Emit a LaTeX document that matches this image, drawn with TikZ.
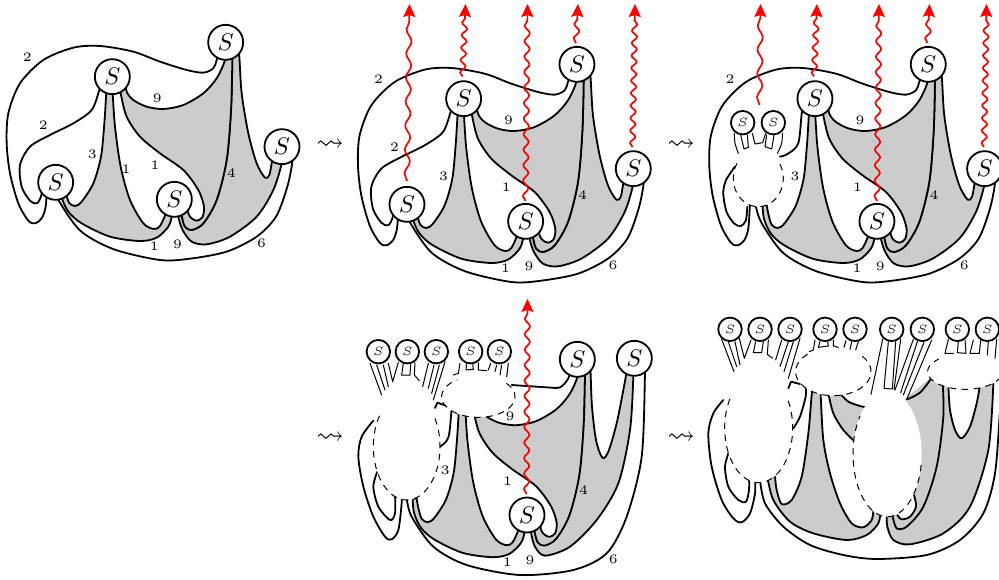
\documentclass[tikz,border=0pt]{standalone}
\usepackage{amssymb}
\usetikzlibrary{decorations.pathmorphing,arrows.meta}
\definecolor{grayreg}{gray}{0.8}
\newcounter{labc}
\tikzset{
  Z/.style 2 args={shift={(#1pt,-#2pt)},x=0.33333pt,y=-0.33333pt},
  reg/.style={draw=black,fill=grayreg,line width=1.8pt,line join=round},
  cv/.style={draw=black,line width=1.8pt,line cap=round,line join=round},
  thinline/.style={draw=black,line width=1pt,line cap=round,line join=round},
  bigS/.style={circle,draw=black,fill=white,line width=1.8pt,inner sep=0pt,minimum size=35pt},
  smallS/.style={circle,draw=black,fill=white,line width=1.8pt,inner sep=0pt,minimum size=23.5pt},
  dashline/.style={draw=black,line width=1pt,dash pattern=on 6.5pt off 5.5pt},
  redarrow/.style={draw=red,line width=1.7pt,-{Stealth[length=13pt,width=12pt,inset=2pt]},
    decorate,decoration={snake,amplitude=2.6pt,segment length=#1,post length=13pt}}
}
\newcommand\bS[3]{\node[bigS] (#1) at (#2,#3) {\scalebox{2.4}{$S$}};}
\newcommand\sS[3]{\node[smallS] (#1) at (#2,#3) {\scalebox{2.4}{$\scriptscriptstyle S$}};}
\newcommand\lab[3]{\stepcounter{labc}\node[inner sep=0pt] (lab\thelabc) at (#1,#2) {\scalebox{2.6}{\tiny #3}};}
\newcommand\squig[3]{\node[inner sep=0pt] (#1) at (#2,#3) {\scalebox{2.75}{$\rightsquigarrow$}};}
% cx cy rx ry a b
\newcommand\blob[6]{\fill[white] (#1,#2) ellipse [x radius=#3,y radius=#4];
  \draw[dashline] plot[domain=#5:#6,samples=70] ({#1+#3*cos(\x)},{#2+#4*sin(\x)});}
\newcommand\redarr[6]{\coordinate (#1s) at (#2,#3);\coordinate (#1e) at (#4,#5);
  \draw[redarrow=#6] (#1s) -- (#1e);}
% base pieces, in the coordinates of panel one scaled by three
\newcommand\grayA{\filldraw[reg] plot[smooth] coordinates {(322,200)(319,245)(313,340)(303,440)(280,520)(245,575)(225,588)(207,578)(197,545)(192,517)}
  -- plot[smooth] coordinates {(180,517)(184,560)(205,605)(245,640)(330,680)(420,693)(470,683)(505,650)(516,615)(518,568)}
  -- plot[smooth] coordinates {(500,568)(497,610)(480,648)(462,657)(430,640)(390,570)(362,470)(345,350)(338,250)(335,200)} -- cycle;}
\newcommand\grayB{\filldraw[reg] plot[smooth] coordinates {(375,205)(380,245)(400,270)(440,290)(490,297)(550,285)(610,250)(650,205)(675,150)(680,97)}
  -- plot[smooth] coordinates {(695,100)(697,145)(693,300)(680,450)(650,570)(610,640)(575,660)(555,650)(546,620)(540,568)}
  -- plot[smooth] coordinates {(560,568)(565,610)(575,625)(590,632)(607,622)(612,590)(595,540)(550,480)(480,430)(420,380)(380,320)(362,250)(355,205)} -- cycle;}
\newcommand\grayC{\filldraw[reg] plot[smooth] coordinates {(712,100)(718,140)(725,250)(745,370)(770,460)(795,503)(808,495)(815,460)(825,410)}
  -- plot[smooth] coordinates {(848,410)(845,460)(820,540)(770,620)(690,680)(620,703)(575,695)(548,660)(535,620)(530,568)}
  -- plot[smooth] coordinates {(540,568)(546,620)(555,650)(575,660)(610,640)(650,570)(680,450)(693,300)(697,145)(695,100)} -- cycle;}
\newcommand\six{\draw[cv] plot[smooth] coordinates {(876,410)(877,455)(862,530)(828,620)(770,680)(680,725)(570,746)(480,750)(342,718)(242,663)(177,573)(160,525)(157,517)};}
\newcommand\outertwo{\draw[cv] plot[smooth] coordinates {(665,97)(650,150)(640,175)(610,188)(560,180)(480,155)(400,125)(300,108)(220,113)(130,150)(60,220)(25,310)(20,400)(30,490)(55,580)(85,632)(105,640)(125,625)(137,590)(142,517)};}
\newcommand\innertwo{\draw[cv] plot[smooth] coordinates {(310,200)(298,240)(275,300)(220,340)(150,375)(90,410)(60,465)(65,530)(90,572)(110,580)(123,560)(130,517)};}
\newcommand\innerpiece{\draw[cv] plot[smooth] coordinates {(310,200)(298,240)(287,334)(255,366)(232,374)};}
\newcommand\labelsCommon{\lab{472}{266}{9}\lab{277}{432}{3}\lab{465}{465}{1}\lab{694}{490}{4}\lab{463}{710}{1}\lab{533}{702}{9}\lab{785}{700}{6}}
\begin{document}
\begin{tikzpicture}[x=1pt,y=-1pt]
\useasboundingbox (0,0) rectangle (999,580);
\fill[white] (0,0) rectangle (999,580);
%%% panel 1
\begin{scope}[Z={0}{10}]
\grayC\grayB\grayA\six\outertwo\innertwo
\bS{a1}{677}{97}\bS{a2}{337}{200}\bS{a3}{167}{517}\bS{a4}{523}{568}\bS{a5}{846}{410}
\labelsCommon\lab{82}{143}{2}\lab{130}{345}{2}\lab{378}{477}{1}
\end{scope}
\squig{q1}{330}{145}
%%% panel 2
\begin{scope}[Z={351.3}{32}]
\grayC\grayB\grayA\six\outertwo\innertwo
\bS{b1}{677}{97}\bS{b2}{337}{200}\bS{b3}{167}{517}\bS{b4}{523}{568}\bS{b5}{846}{410}
\labelsCommon\lab{82}{143}{2}\lab{130}{345}{2}
\end{scope}
\redarr{ra1}{407}{181}{409.5}{4}{24pt}
\redarr{ra2}{462.5}{76.5}{465.5}{4}{12.5pt}
\redarr{ra3}{525.5}{201}{527.5}{4}{15.5pt}
\redarr{ra4}{576}{43}{578}{4}{14.5pt}
\redarr{ra5}{632.5}{147}{635}{4}{12.5pt}
\squig{q2}{681}{145}
%%% panel 3
\begin{scope}[Z={702.6}{32}]
\grayC\grayB\grayA\six\outertwo\innerpiece
\draw[cv] plot[smooth] coordinates {(97,404)(70,445)(62,484)(72,540)(95,575)(115,582)(130,565)(134,524)};
\blob{167}{439}{75}{85}{-30}{212}
\bS{c1}{677}{97}\bS{c2}{337}{200}\bS{c4}{523}{568}\bS{c5}{846}{410}
\labelsCommon\lab{82}{143}{2}
\end{scope}
\begin{scope}[Z={720}{100}]
\draw[thinline] plot[smooth] coordinates {(43,100)(45,130)(55,160)};
\draw[thinline] (62,105) -- (72,147) -- (85,142) -- (82,105);
\draw[thinline] (97,100) -- (105,132) -- (128,128) -- (137,100);
\draw[thinline] (140,105) -- (135,140) -- (155,147) -- (162,105);
\draw[thinline] plot[smooth] coordinates {(187,100)(185,130)(172,160)};
\sS{c6}{68}{68}\sS{c7}{160}{68}
\end{scope}
\redarr{rb1}{759.5}{105}{760.5}{4}{24pt}
\redarr{rb2}{814}{76.5}{817}{4}{12.5pt}
\redarr{rb3}{877}{201}{879}{4}{15.5pt}
\redarr{rb4}{927.5}{43}{929.5}{4}{14.5pt}
\redarr{rb5}{984}{147}{986.5}{4}{12.5pt}
\squig{q3}{330}{438}
%%% panel 4
\begin{scope}[Z={352.67}{326.2}]
\grayB\grayA
\innerpiece
\end{scope}
\begin{scope}[Z={340}{290}]
\filldraw[reg] plot[smooth] coordinates {(750,210)(752,255)(756,350)(768,450)(787,503)(805,485)(830,400)(850,300)(858,255)(862,205)}
  -- plot[smooth] coordinates {(880,205)(880,260)(870,420)(835,580)(770,690)(690,770)(615,797)(585,770)(573,727)(568,675)}
  -- plot[smooth] coordinates {(578,675)(584,727)(593,757)(613,767)(648,747)(688,677)(718,557)(731,407)(735,252)(733,207)} -- cycle;
\draw[cv] plot[smooth] coordinates {(915,205)(915,250)(905,500)(860,680)(800,790)(700,840)(540,855)(380,825)(280,770)(215,680)(200,625)};
\draw[cv] plot[smooth] coordinates {(100,392)(65,440)(55,500)(70,590)(100,680)(135,740)(155,748)(175,720)(185,640)(185,610)};
\draw[cv] plot[smooth] coordinates {(112,545)(100,590)(115,650)(150,690)(165,670)(165,610)};
\draw[cv] plot[smooth] coordinates {(515,285)(560,288)(620,292)(660,292)(685,265)(695,230)};
\blob{200}{470}{100}{160}{-32}{217}
\blob{415}{320}{110}{62}{-40}{235}
\draw[cv] (285,354) -- (292,338) -- (315,346);
\bS{d1}{712}{208}\bS{d4}{561}{675}\bS{d5}{883}{205}
\lab{510}{378}{9}\lab{316}{542}{3}\lab{503}{575}{1}\lab{731}{600}{4}\lab{502}{818}{1}\lab{570}{812}{9}\lab{820}{808}{6}
\end{scope}
\begin{scope}[Z={360}{330}]
\draw[thinline] (30,100) -- (65,195);
\draw[thinline] (50,105) -- (75,180);
\draw[thinline] (70,105) -- (85,170);
\draw[thinline] (85,100) -- (98,155) -- (115,97);
\draw[thinline] (130,100) -- (125,135) -- (150,135) -- (152,103);
\draw[thinline] (165,98) -- (163,135) -- (178,152);
\draw[thinline] (188,170) -- (205,100);
\draw[thinline] (205,175) -- (222,105);
\draw[thinline] (215,190) -- (238,105);
\draw[thinline] (220,210) -- (255,95);
\draw[thinline] (300,100) -- (295,130) -- (280,135);
\draw[thinline] (320,100) -- (318,120) -- (340,118) -- (338,100);
\draw[thinline] (355,98) -- (355,120) -- (380,122);
\draw[thinline] (392,100) -- (385,120);
\draw[thinline] (410,105) -- (405,125);
\draw[thinline] (425,105) -- (420,135);
\draw[thinline] (445,100) -- (440,140);
\sS{d6}{55}{65}\sS{d7}{142}{65}\sS{d8}{229}{65}\sS{d9}{332}{65}\sS{d10}{418}{65}
\end{scope}
\redarr{rc3}{526.5}{494}{527.5}{299}{15.5pt}
\squig{q4}{681}{438}
%%% panel 5
\begin{scope}[Z={660}{300}]
\filldraw[reg] plot[smooth] coordinates {(345,530)(350,570)(365,612)(395,600)(425,530)(445,400)(455,285)(460,260)}
  -- plot[smooth] coordinates {(480,260)(482,285)(490,420)(510,520)(540,610)(575,670)(610,682)(635,660)(640,630)}
  -- plot[smooth] coordinates {(662,630)(655,670)(620,705)(560,720)(460,700)(390,665)(340,600)(322,530)} -- cycle;
\filldraw[reg] plot[smooth] coordinates {(505,280)(520,340)(550,390)(590,430)} -- plot[smooth] coordinates {(625,323)(600,318)(565,305)(540,280)} -- cycle;
\fill[grayreg] (730,300) -- (810,235) -- (1005,240) -- plot[smooth] coordinates {(1000,260)(985,450)(930,620)(850,700)(750,733)(700,720)(682,680)(680,640)}
  -- plot[smooth] coordinates {(712,645)(725,658)(750,650)(768,620)(765,585)(750,500)} -- cycle;
\draw[cv] plot[smooth] coordinates {(1000,250)(985,450)(930,620)(850,700)(750,733)(700,720)(682,680)(680,640)};
\draw[cv] plot[smooth] coordinates {(848,250)(850,350)(830,500)(790,620)(740,680)(710,685)(698,650)};
\draw[cv] plot[smooth] coordinates {(712,645)(725,658)(750,650)(768,620)(762,585)};
\draw[cv] plot[smooth] coordinates {(742,298)(780,278)(812,238)};
\filldraw[reg,fill=white] plot[smooth] coordinates {(865,255)(870,330)(885,390)(905,415)(930,380)(950,310)(960,255)} -- cycle;
\draw[cv] plot[smooth] coordinates {(1022,290)(1020,330)(1005,520)(970,640)(900,720)(800,765)(650,777)(550,765)(450,735)(370,680)(315,610)(300,540)};
\draw[cv] plot[smooth] coordinates {(190,300)(160,340)(145,400)(155,500)(185,600)(220,655)(245,667)(270,640)(285,580)(285,530)};
\draw[cv] plot[smooth] coordinates {(207,455)(195,500)(205,560)(235,600)(258,605)(267,570)(267,530)};
\draw[cv] plot[smooth] coordinates {(400,385)(420,350)(437,290)(437,260)};
\blob{296}{384}{102}{164}{-30}{218}
\blob{520}{215}{113}{72}{-40}{230}
\blob{682}{462}{103}{188}{10}{217}
\blob{915}{215}{112}{53}{-20}{225}
\draw[cv] (385,265) -- (393,245) -- (420,252);
\end{scope}
\begin{scope}[Z={710}{310}]
\draw[thinline] (35,88) -- (72,185);
\draw[thinline] (55,95) -- (80,170);
\draw[thinline] (75,95) -- (90,165);
\draw[thinline] (88,85) -- (103,145) -- (123,90);
\draw[thinline] (137,95) -- (130,128) -- (155,128) -- (160,95);
\draw[thinline] (175,90) -- (172,133) -- (188,145);
\draw[thinline] (197,150) -- (215,90);
\draw[thinline] (210,170) -- (235,95);
\draw[thinline] (222,185) -- (250,95);
\draw[thinline] (235,205) -- (270,85);
\draw[thinline] (315,90) -- (310,120) -- (298,125);
\draw[thinline] (330,95) -- (325,112) -- (355,108) -- (353,95);
\draw[thinline] (370,90) -- (370,108) -- (385,112);
\draw[thinline] (408,92) -- (402,112);
\draw[thinline] (425,95) -- (420,118);
\draw[thinline] (445,95) -- (437,120);
\sS{e1}{60}{58}\sS{e2}{150}{58}\sS{e3}{240}{58}\sS{e4}{345}{58}\sS{e5}{435}{58}
\end{scope}
\begin{scope}[Z={860}{310}]
\draw[thinline] (68,88) -- (33,253);
\draw[thinline] (85,95) -- (72,235) -- (97,237) -- (107,95);
\draw[thinline] (122,88) -- (102,240);
\draw[thinline] (160,88) -- (105,240);
\draw[thinline] (172,95) -- (122,248);
\draw[thinline] (192,97) -- (130,255);
\draw[thinline] (215,90) -- (140,268);
\draw[thinline] (265,88) -- (255,130) -- (280,130);
\draw[thinline] (295,95) -- (292,128) -- (318,130) -- (315,90);
\draw[thinline] (340,90) -- (330,130) -- (358,130) -- (362,90);
\draw[thinline] (385,95) -- (382,135);
\draw[thinline] (410,88) -- (405,145);
\sS{e6}{95}{58}\sS{e7}{187}{58}\sS{e8}{292}{58}\sS{e9}{382}{58}
\end{scope}
\end{tikzpicture}
\end{document}
